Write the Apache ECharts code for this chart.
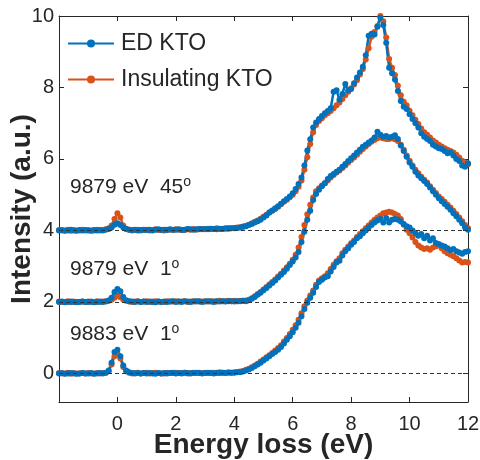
<!DOCTYPE html>
<html>
<head>
<meta charset="utf-8">
<script src="https://cdn.jsdelivr.net/npm/echarts@6/dist/echarts.min.js"></script>
<style>html,body{margin:0;padding:0;background:#fff}#c{width:480px;height:460px}</style>
</head>
<body>
<div id="c"></div>
<script>
// Energy loss grid (eV)
var energy = [
-2.0,-1.9,-1.8,-1.7,-1.6,-1.5,-1.4,-1.3,-1.2,-1.1,
-1.0,-0.9,-0.8,-0.7,-0.6,-0.5,-0.4,-0.3,-0.2,-0.1,
0.0,0.1,0.2,0.3,0.4,0.5,0.6,0.7,0.8,0.9,
1.0,1.1,1.2,1.3,1.4,1.5,1.6,1.7,1.8,1.9,
2.0,2.1,2.2,2.3,2.4,2.5,2.6,2.7,2.8,2.9,
3.0,3.1,3.2,3.3,3.4,3.5,3.6,3.7,3.8,3.9,
4.0,4.1,4.2,4.3,4.4,4.5,4.6,4.7,4.8,4.9,
5.0,5.1,5.2,5.3,5.4,5.5,5.6,5.7,5.8,5.9,
6.0,6.1,6.2,6.3,6.4,6.5,6.6,6.7,6.8,6.9,
7.0,7.1,7.2,7.3,7.4,7.5,7.6,7.7,7.8,7.9,
8.0,8.1,8.2,8.3,8.4,8.5,8.6,8.7,8.8,8.9,
9.0,9.1,9.2,9.3,9.4,9.5,9.6,9.7,9.8,9.9,
10.0,10.1,10.2,10.3,10.4,10.5,10.6,10.7,10.8,10.9,
11.0,11.1,11.2,11.3,11.4,11.5,11.6,11.7,11.8,11.9,
12.0];

// ED KTO, 9879 eV 45deg (offset 4)
var ed45 = [
4.00,4.01,3.99,4.00,4.02,4.00,3.99,4.01,4.00,4.01,
4.00,3.99,4.01,4.00,4.01,4.00,4.02,4.04,4.08,4.16,
4.20,4.15,4.08,4.04,4.02,4.01,4.02,4.00,4.01,4.02,
4.01,4.02,4.00,4.02,4.03,4.01,4.02,4.01,4.03,4.02,
4.02,4.03,4.01,4.02,4.04,4.03,4.02,4.03,4.04,4.03,
4.04,4.03,4.05,4.04,4.03,4.05,4.04,4.06,4.05,4.06,
4.06,4.07,4.08,4.10,4.12,4.15,4.18,4.22,4.26,4.30,
4.36,4.42,4.50,4.56,4.62,4.68,4.75,4.82,4.88,4.95,
5.04,5.16,5.30,5.48,5.82,6.24,6.55,6.88,7.02,7.12,
7.20,7.28,7.34,7.42,7.88,7.92,7.66,7.82,8.10,7.92,
7.96,8.12,8.28,8.42,8.58,8.90,9.45,9.50,9.48,9.70,
9.95,9.75,9.25,8.55,8.40,8.22,7.90,7.62,7.46,7.40,
7.25,7.12,7.00,6.88,6.72,6.62,6.56,6.50,6.40,6.35,
6.30,6.28,6.22,6.16,6.18,6.10,6.00,5.94,5.82,5.78,
5.88];

// Insulating KTO, 9879 eV 45deg
var ins45 = [
4.01,4.00,4.00,4.02,3.99,4.01,4.00,4.00,4.02,4.00,
4.01,4.00,4.00,4.02,4.00,4.01,4.03,4.06,4.14,4.32,
4.48,4.36,4.14,4.05,4.02,4.00,4.01,4.02,4.00,4.01,
4.02,4.00,4.01,4.03,4.01,4.02,4.00,4.02,4.02,4.01,
4.03,4.02,4.02,4.01,4.03,4.02,4.04,4.02,4.03,4.04,
4.03,4.05,4.04,4.04,4.06,4.04,4.05,4.05,4.07,4.06,
4.07,4.08,4.09,4.11,4.13,4.16,4.20,4.24,4.28,4.33,
4.38,4.44,4.50,4.55,4.60,4.66,4.73,4.80,4.86,4.93,
5.00,5.10,5.22,5.40,5.70,6.05,6.42,6.75,6.95,7.06,
7.14,7.22,7.28,7.34,7.42,7.50,7.58,7.68,7.78,7.88,
7.98,8.08,8.20,8.36,8.52,8.78,9.10,9.42,9.55,9.72,
10.00,9.85,9.40,8.80,8.55,8.35,8.05,7.78,7.60,7.50,
7.35,7.22,7.10,6.98,6.85,6.75,6.68,6.60,6.52,6.46,
6.40,6.35,6.30,6.26,6.22,6.18,6.12,6.04,5.95,5.90,
5.85];

// ED KTO, 9879 eV 1deg (offset 2)
var ed1a = [
2.00,2.01,1.99,2.00,2.01,2.00,1.99,2.00,2.01,2.00,
2.00,2.01,1.99,2.00,2.01,2.00,2.01,2.04,2.12,2.28,
2.36,2.30,2.14,2.05,2.02,2.01,2.00,2.01,2.00,2.01,
2.00,2.01,2.00,1.99,2.01,2.00,2.01,2.00,2.01,2.02,
2.00,2.01,2.00,2.02,2.01,2.00,2.01,2.02,2.01,2.00,
2.01,2.02,2.01,2.00,2.02,2.01,2.02,2.01,2.02,2.02,
2.01,2.02,2.02,2.03,2.02,2.05,2.09,2.14,2.20,2.26,
2.33,2.39,2.46,2.53,2.60,2.68,2.76,2.84,2.93,3.03,
3.13,3.24,3.40,3.68,3.96,4.30,4.55,4.85,5.02,5.14,
5.24,5.32,5.44,5.52,5.58,5.64,5.70,5.78,5.86,5.94,
6.02,6.10,6.18,6.26,6.34,6.40,6.46,6.52,6.60,6.76,
6.68,6.62,6.64,6.60,6.62,6.66,6.56,6.38,6.22,6.06,
5.90,5.78,5.64,5.54,5.46,5.38,5.30,5.20,5.10,5.00,
4.90,4.82,4.74,4.66,4.58,4.48,4.40,4.30,4.20,4.08,
4.02];

// Insulating KTO, 9879 eV 1deg
var ins1a = [
2.01,2.00,2.00,2.02,1.99,2.01,2.00,2.00,2.01,2.00,
2.01,2.00,2.00,2.02,2.00,2.01,2.02,2.03,2.06,2.12,
2.17,2.13,2.07,2.03,2.01,2.00,2.01,2.02,2.00,2.01,
2.02,2.00,2.01,2.02,2.01,2.00,2.00,2.02,2.01,2.01,
2.02,2.01,2.01,2.02,2.00,2.01,2.02,2.01,2.02,2.01,
2.02,2.01,2.02,2.02,2.01,2.03,2.02,2.02,2.03,2.02,
2.03,2.02,2.03,2.03,2.04,2.06,2.10,2.16,2.22,2.28,
2.35,2.42,2.49,2.56,2.63,2.71,2.79,2.88,2.97,3.07,
3.18,3.32,3.52,3.82,4.15,4.45,4.72,4.92,5.10,5.18,
5.26,5.32,5.40,5.48,5.55,5.62,5.68,5.75,5.82,5.90,
5.97,6.04,6.12,6.20,6.28,6.35,6.42,6.48,6.53,6.58,
6.60,6.58,6.56,6.56,6.58,6.55,6.50,6.40,6.26,6.10,
5.95,5.82,5.70,5.60,5.50,5.42,5.34,5.24,5.14,5.05,
4.95,4.88,4.80,4.72,4.64,4.55,4.46,4.36,4.26,4.15,
4.06];

// ED KTO, 9883 eV 1deg (offset 0)
var ed1b = [
0.00,0.01,-0.01,0.00,0.01,0.00,-0.01,0.00,0.01,0.00,
0.00,0.01,-0.01,0.00,0.01,0.00,0.02,0.08,0.30,0.60,
0.66,0.48,0.22,0.08,0.03,0.01,0.00,0.01,0.00,0.01,
0.00,0.01,0.00,-0.01,0.01,0.00,0.01,0.00,0.01,0.02,
0.00,0.01,0.00,0.02,0.01,0.00,0.01,0.02,0.01,0.00,
0.01,0.02,0.01,0.00,0.02,0.01,0.02,0.01,0.02,0.02,
0.02,0.03,0.03,0.05,0.08,0.11,0.15,0.20,0.25,0.30,
0.36,0.42,0.48,0.54,0.60,0.66,0.74,0.84,0.94,1.04,
1.15,1.28,1.42,1.60,1.80,1.98,2.12,2.26,2.42,2.56,
2.62,2.68,2.72,2.85,2.98,3.10,3.15,3.30,3.42,3.50,
3.60,3.68,3.78,3.84,3.92,4.00,4.08,4.15,4.22,4.28,
4.32,4.22,4.35,4.22,4.30,4.32,4.30,4.25,4.18,4.12,
4.08,4.00,3.92,3.85,3.90,3.78,3.85,3.72,3.78,3.65,
3.62,3.58,3.55,3.50,3.45,3.48,3.42,3.38,3.35,3.40,
3.42];

// Insulating KTO, 9883 eV 1deg
var ins1b = [
0.01,0.00,0.00,0.02,-0.01,0.01,0.00,0.00,0.01,0.00,
0.01,0.00,0.00,0.01,0.00,0.01,0.02,0.06,0.25,0.48,
0.55,0.42,0.18,0.06,0.02,0.00,0.01,0.02,0.00,0.01,
0.02,0.00,0.01,0.02,0.01,0.00,0.00,0.02,0.01,0.01,
0.02,0.01,0.01,0.02,0.00,0.01,0.02,0.01,0.02,0.01,
0.02,0.01,0.02,0.02,0.01,0.03,0.02,0.02,0.03,0.02,
0.03,0.04,0.05,0.07,0.10,0.13,0.17,0.22,0.27,0.33,
0.39,0.45,0.51,0.57,0.64,0.71,0.79,0.89,0.99,1.10,
1.22,1.35,1.50,1.68,1.88,2.04,2.18,2.32,2.48,2.60,
2.66,2.72,2.80,2.92,3.04,3.14,3.22,3.36,3.46,3.55,
3.64,3.72,3.82,3.90,3.98,4.06,4.14,4.22,4.30,4.36,
4.42,4.48,4.50,4.52,4.50,4.46,4.42,4.32,4.16,4.02,
3.92,3.80,3.68,3.58,3.52,3.48,3.50,3.46,3.52,3.56,
3.58,3.50,3.42,3.36,3.32,3.28,3.22,3.16,3.10,3.12,
3.10];

var baselines = [0, 2, 4];
var xTicks = [0, 2, 4, 6, 8, 10, 12];
var yTicks = [0, 2, 4, 6, 8, 10];
var seriesNames = ['ED KTO', 'Insulating KTO'];
var labels = [
  {main: '9879 eV  45', sup: 'o'},
  {main: '9879 eV  1', sup: 'o'},
  {main: '9883 eV  1', sup: 'o'}
];

var BLUE = '#0072BD', ORANGE = '#D95319', AX = '#262626';
var FONT = '"Liberation Sans", Arial, Helvetica, sans-serif';

function pairs(v) { return energy.map(function (e, i) { return [e, v[i]]; }); }
function mk(name, vals, color, extra) {
  var s = {
    type: 'line', name: name, data: pairs(vals),
    color: color,
    lineStyle: {width: 2.5, color: color},
    itemStyle: {color: color},
    symbol: 'circle', symbolSize: 6, showSymbol: true, showAllSymbol: true,
    animation: false, silent: true
  };
  if (extra) for (var k in extra) s[k] = extra[k];
  return s;
}

var series = [
  mk(seriesNames[1], ins45, ORANGE, {
    markLine: {
      silent: true, symbol: 'none', label: {show: false},
      lineStyle: {type: [4, 3], color: '#333', width: 1},
      data: baselines.map(function (v) { return {yAxis: v}; })
    }
  }),
  mk(seriesNames[1], ins1a, ORANGE),
  mk(seriesNames[1], ins1b, ORANGE),
  mk(seriesNames[0], ed45, BLUE),
  mk(seriesNames[0], ed1a, BLUE),
  mk(seriesNames[0], ed1b, BLUE)
];

function axLine() { return {show: true, onZero: false, lineStyle: {color: AX, width: 1}}; }
function axTick(vals) { return {show: true, inside: true, length: 5, lineStyle: {color: AX, width: 1}, customValues: vals}; }
var chart = echarts.init(document.getElementById('c'), null, {renderer: 'canvas'});
var labelY = [187, 269, 334];
chart.setOption({
  animation: false,
  backgroundColor: '#fff',
  textStyle: {fontFamily: FONT},
  grid: {left: 59, right: 12, top: 16, bottom: 58, containLabel: false, outerBoundsMode: 'none'},
  legend: {
    data: seriesNames, orient: 'vertical', left: 67, top: 32, padding: 0,
    itemWidth: 46, itemHeight: 10, itemGap: 13,
    textStyle: {fontSize: 23, color: AX, fontFamily: FONT, padding: [0, 0, 0, 2]},
    selectedMode: false
  },
  xAxis: [{
    type: 'value', min: -2, max: 12, interval: 2, position: 'bottom',
    axisLine: axLine(),
    axisTick: axTick(xTicks),
    axisLabel: {fontSize: 20, color: AX, fontFamily: FONT, margin: 12, customValues: xTicks},
    splitLine: {show: false},
    name: 'Energy loss (eV)', nameLocation: 'middle', nameGap: 29, nameMoveOverlap: false,
    nameTextStyle: {fontSize: 28, fontWeight: 'bold', color: AX, fontFamily: FONT}
  }, {
    type: 'value', min: -2, max: 12, interval: 2, position: 'top',
    axisLine: axLine(),
    axisTick: axTick(xTicks),
    axisLabel: {show: false}, splitLine: {show: false}
  }],
  yAxis: [{
    type: 'value', min: -0.8, max: 10, position: 'left',
    axisLine: axLine(),
    axisTick: axTick(yTicks),
    axisLabel: {fontSize: 20, color: AX, fontFamily: FONT, margin: 5, customValues: yTicks},
    splitLine: {show: false},
    name: 'Intensity (a.u.)', nameLocation: 'middle', nameGap: 23, nameMoveOverlap: false,
    nameTextStyle: {fontSize: 28, fontWeight: 'bold', color: AX, fontFamily: FONT}
  }, {
    type: 'value', min: -0.8, max: 10, position: 'right',
    axisLine: axLine(),
    axisTick: axTick(yTicks),
    axisLabel: {show: false}, splitLine: {show: false}
  }],
  graphic: labels.map(function (l, i) {
    return {
      type: 'text', x: 70, y: labelY[i], silent: true,
      style: {
        text: '{a|' + l.main + '}{s|' + l.sup + '}',
        verticalAlign: 'middle', align: 'left',
        rich: {
          a: {fontSize: 21, lineHeight: 24, fontFamily: FONT, fill: AX, color: AX},
          s: {fontSize: 14, lineHeight: 15, fontFamily: FONT, fill: AX, color: AX, verticalAlign: 'top'}
        }
      }
    };
  }),
  series: series
});
</script>
</body>
</html>
